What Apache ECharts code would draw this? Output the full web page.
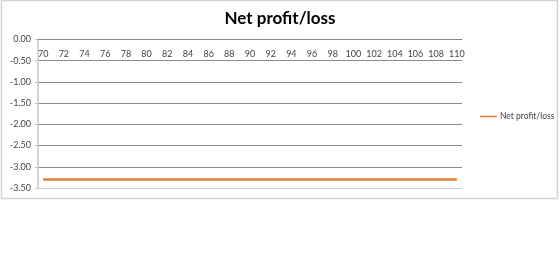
<!DOCTYPE html>
<html><head><meta charset="utf-8">
<script src="https://cdn.jsdelivr.net/npm/echarts@6/dist/echarts.min.js"></script>
<style>html,body{margin:0;padding:0;background:#fff}#c{width:560px;height:263px}</style>
</head><body><div id="c"></div>
<script>
const categories = [];
for (let v = 70; v <= 110; v++) categories.push(String(v));
const netProfitLoss = [-3.3,-3.3,-3.3,-3.3,-3.3,-3.3,-3.3,-3.3,-3.3,-3.3,-3.3,-3.3,-3.3,-3.3,-3.3,-3.3,-3.3,-3.3,-3.3,-3.3,-3.3,-3.3,-3.3,-3.3,-3.3,-3.3,-3.3,-3.3,-3.3,-3.3,-3.3,-3.3,-3.3,-3.3,-3.3,-3.3,-3.3,-3.3,-3.3,-3.3,-3.3];
const yTicks = [-3.5,-3.0,-2.5,-2.0,-1.5,-1.0,-0.5,0.0];
const seriesName = 'Net profit/loss';

const chart = echarts.init(document.getElementById('c'), null, {renderer:'canvas'});
chart.setOption({
  animation:false,
  backgroundColor:'#fff',
  textStyle:{fontFamily:'Lato, "Open Sans", sans-serif'},
  graphic:[{type:'rect',shape:{x:1.5,y:0.5,width:556,height:198},style:{fill:'none',stroke:'#d4d4d4',lineWidth:1.5},silent:true}],
  title:{text:seriesName,left:'center',top:5,textStyle:{fontSize:17,fontWeight:'bold',color:'#000',fontFamily:'Lato, sans-serif'}},
  legend:{data:[seriesName],orient:'vertical',left:475,top:107,icon:'rect',itemWidth:17,itemHeight:1.5,itemGap:4,
    textStyle:{fontSize:8.5,color:'#444',fontFamily:'Lato, sans-serif',padding:[0,0,0,-2]}},
  grid:{left:38,right:98,top:39.5,bottom:75},
  xAxis:{type:'category',position:'top',data:categories,boundaryGap:true,
    axisLine:{lineStyle:{color:'#868686',width:1}},
    axisTick:{inside:true,length:3,interval:0,lineStyle:{color:'#868686'}},
    axisLabel:{inside:true,interval:1,margin:10,fontSize:9,color:'#444',fontFamily:'Lato, sans-serif'},
    splitLine:{show:false}},
  yAxis:{type:'value',min:yTicks[0],max:yTicks[yTicks.length-1],interval:0.5,
    axisLine:{show:true,lineStyle:{color:'#c8c8c8',width:1.5}},
    axisTick:{show:true,length:3,lineStyle:{color:'#c8c8c8'}},
    axisLabel:{formatter:v=>v.toFixed(2),fontSize:9,color:'#444',margin:7,fontFamily:'Lato, sans-serif'},
    splitLine:{lineStyle:{color:['#d0d0d0','#8c8c8c','#8c8c8c','#8c8c8c','#8c8c8c','#8c8c8c','#8c8c8c','#868686'],width:1}}},
  series:[{name:seriesName,type:'line',data:netProfitLoss,showSymbol:false,symbol:'none',
    lineStyle:{color:'#E8803A',width:2.5},itemStyle:{color:'#E8803A'}}]
});
</script></body></html>
